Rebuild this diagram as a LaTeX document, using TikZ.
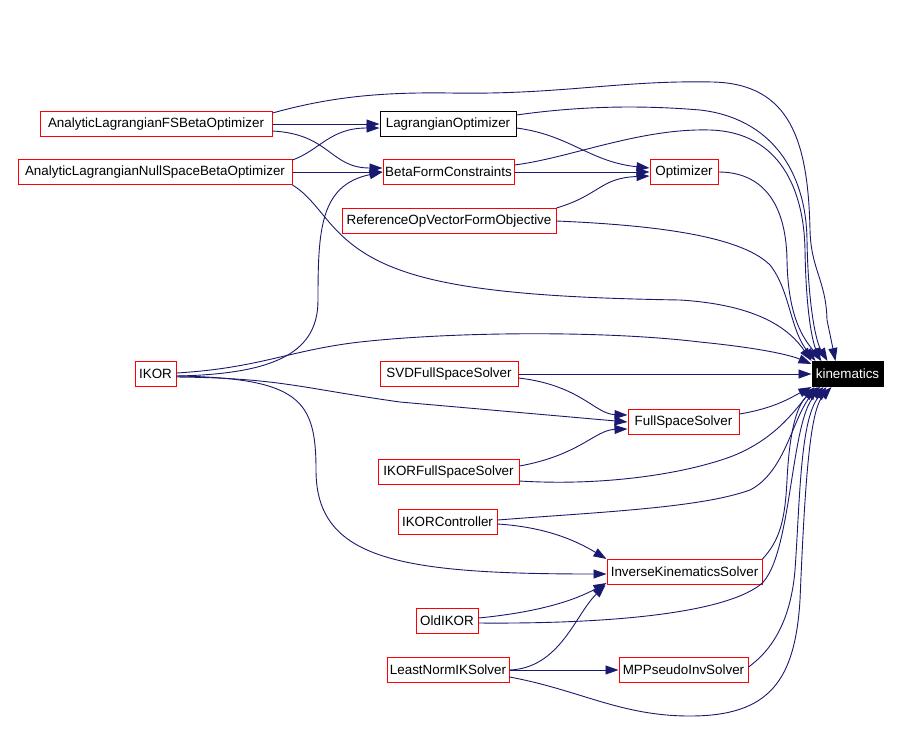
\documentclass[tikz,border=0pt]{standalone}
\usepackage{fontspec}
\setmainfont{Liberation Sans}
\usetikzlibrary{arrows.meta}
\definecolor{edgeblue}{RGB}{25,25,112}
\tikzstyle{cls}=[rectangle,draw=red,line width=1pt,fill=white,minimum height=25pt,inner xsep=2pt,inner ysep=0pt,font=\fontsize{13.4}{15}\selectfont]
\tikzstyle{clsplain}=[cls,draw=black]
\tikzstyle{clscur}=[cls,draw=black,fill=black,text=white]
\tikzstyle{dep}=[-{Triangle[length=13pt,width=9pt]},draw=edgeblue,line width=0.9pt]

\begin{document}
\begin{tikzpicture}[x=1pt,y=-1pt]
\useasboundingbox (0,0) rectangle (902,748);
\node[cls, minimum width=232] (alfs) at (156,124) {AnalyticLagrangianFSBetaOptimizer};
\node[cls, minimum width=274] (alns) at (155,172) {AnalyticLagrangianNullSpaceBetaOptimizer};
\node[clsplain, minimum width=136] (lag) at (448,124) {LagrangianOptimizer};
\node[cls, minimum width=131] (beta) at (448.5,172) {BetaFormConstraints};
\node[cls, minimum width=214] (refop) at (449,221) {ReferenceOpVectorFormObjective};
\node[cls, minimum width=68] (opt) at (684,172) {Optimizer};
\node[clscur, minimum width=71] (kin) at (847.5,374) {kinematics};
\node[cls, minimum width=41] (ikor) at (155.5,374) {IKOR};
\node[cls, minimum width=138] (svd) at (449,374) {SVDFullSpaceSolver};
\node[cls, minimum width=111] (fss) at (683.5,422) {FullSpaceSolver};
\node[cls, minimum width=141] (ikfss) at (448.5,472) {IKORFullSpaceSolver};
\node[cls, minimum width=99] (ikc) at (447.5,522) {IKORController};
\node[cls, minimum width=155] (iks) at (684.5,572) {InverseKinematicsSolver};
\node[cls, minimum width=62] (old) at (447,621) {OldIKOR};
\node[cls, minimum width=122] (ln) at (448,670) {LeastNormIKSolver};
\node[cls, minimum width=129] (mpp) at (683.5,670) {MPPseudoInvSolver};
\draw[dep] (alfs.east) -- (lag.west);
\draw[dep] ([yshift=-7]alfs.east) .. controls (330,134) and (330,168) .. ([yshift=4]beta.west);
\draw[dep] ([yshift=11]alfs.east) .. controls (330,97) and (380,92) .. (450,93) .. controls (560,95) and (620,80) .. (713,82) .. controls (790,84) and (808,140) .. (810,230) .. controls (811,270) and (826,280) .. (827,320) -- ([xshift=-12]kin.north);
\draw[dep] ([yshift=12]alns.east) .. controls (320,150) and (330,128) .. ([yshift=-4]lag.west);
\draw[dep] (alns.east) -- (beta.west);
\draw[dep] (alns.south east) .. controls (325,205) and (330,245) .. (400,270) .. controls (460,292) and (560,298) .. (680,300) .. controls (760,305) and (790,330) .. (kin.north west);
\draw[dep] ([yshift=9]lag.east) .. controls (580,106) and (640,105) .. (700,110) .. controls (770,118) and (806,170) .. (807,240) .. controls (808,300) and (815,340) .. ([xshift=-20]kin.north);
\draw[dep] ([yshift=-4]lag.east) .. controls (570,135) and (590,162) .. ([yshift=4]opt.west);
\draw[dep] (beta.east) -- (opt.west);
\draw[dep] ([yshift=7]beta.east) .. controls (570,158) and (640,128) .. (710,130) .. controls (780,132) and (804,190) .. (805,250) .. controls (806,310) and (812,340) .. ([xshift=-27]kin.north);
\draw[dep] (refop.north east) .. controls (600,195) and (600,178) .. ([yshift=-4]opt.west);
\draw[dep] (refop.east) .. controls (650,225) and (740,235) .. (770,265) .. controls (790,290) and (790,330) .. ([xshift=4]kin.north west);
\draw[dep] (opt.east) .. controls (760,172) and (786,200) .. (787,260) .. controls (788,320) and (805,340) .. ([xshift=10]kin.north west);
\draw[dep] ([yshift=1]ikor.east) .. controls (260,368) and (290,350) .. (360,342) .. controls (450,332) and (600,330) .. (700,342) .. controls (760,348) and (790,355) .. ([yshift=10]kin.west);
\draw[dep] ([yshift=-2]ikor.east) .. controls (280,374) and (318,350) .. (318,300) .. controls (318,230) and (320,185) .. (beta.west);
\draw[dep] ([yshift=-3]ikor.east) .. controls (280,378) and (300,388) .. (400,402) -- (fss.west);
\draw[dep] ([yshift=-2]ikor.east) .. controls (300,378) and (316,400) .. (316,470) .. controls (316,560) and (400,574) .. ([yshift=-2]iks.west);
\draw[dep] (svd.east) -- (kin.west);
\draw[dep] ([yshift=-4]svd.east) .. controls (580,385) and (595,414) .. ([yshift=7]fss.west);
\draw[dep] ([yshift=6]ikfss.east) .. controls (580,455) and (595,430) .. ([yshift=-7]fss.west);
\draw[dep] ([yshift=8]fss.east) .. controls (775,408) and (790,398) .. (kin.south west);
\draw[dep] ([yshift=-9]ikfss.east) .. controls (600,486) and (680,475) .. (730,457) .. controls (775,440) and (795,410) .. ([xshift=3]kin.south west);
\draw[dep] ([yshift=2]ikc.east) .. controls (600,512) and (700,508) .. (750,490) .. controls (785,472) and (792,420) .. ([xshift=6]kin.south west);
\draw[dep] ([yshift=-2]ikc.east) .. controls (545,527) and (575,540) .. (iks.north west);
\draw[dep] (iks.north east) .. controls (780,540) and (785,520) .. (787,480) .. controls (790,420) and (800,400) .. ([xshift=9]kin.south west);
\draw[dep] ([yshift=3]old.east) .. controls (540,612) and (575,600) .. ([yshift=2]iks.south west);
\draw[dep] ([yshift=-2]old.east) .. controls (600,624) and (720,615) .. (760,585) .. controls (792,560) and (790,420) .. ([xshift=12]kin.south west);
\draw[dep] (ln.east) .. controls (560,668) and (575,615) .. ([xshift=-1]iks.south west);
\draw[dep] (ln.east) -- (mpp.west);
\draw[dep] ([yshift=3]mpp.east) .. controls (765,655) and (790,630) .. (795,570) .. controls (800,500) and (800,420) .. ([xshift=15]kin.south west);
\draw[dep] ([yshift=-7]ln.east) .. controls (580,690) and (620,716) .. (690,716) .. controls (770,716) and (795,680) .. (800,600) .. controls (805,480) and (810,410) .. ([xshift=20]kin.south west);
\end{tikzpicture}
\end{document}
